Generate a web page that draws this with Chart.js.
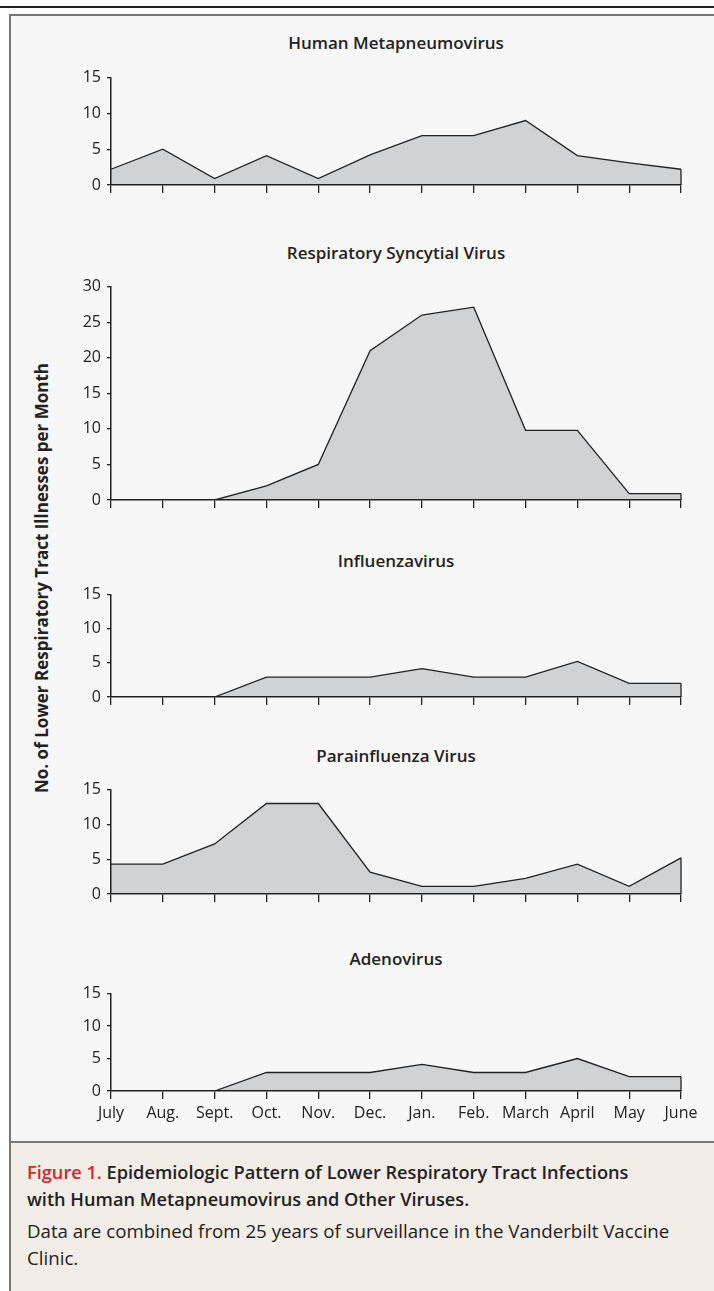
<!DOCTYPE html>
<html>
<head>
<meta charset="utf-8">
<script src="https://cdn.jsdelivr.net/npm/chart.js@4.4.1/dist/chart.umd.min.js"></script>
<style>
  html, body { margin: 0; padding: 0; background: #fff; }
  body { width: 714px; height: 1291px; position: relative; overflow: hidden; }
  .rule { position: absolute; left: 0; top: 6px; width: 714px; height: 2px; background: #222; }
  .box { position: absolute; left: 9px; top: 14px; width: 720px; height: 1125px; background: #f7f7f7;
         border-left: 2px solid #777; border-top: 2px solid #777; }
  .caption { position: absolute; left: 9px; top: 1141px; width: 720px; height: 160px; background: #f2ede6;
             border-left: 2px solid #777; border-top: 2px solid #777; }
  .cap-text { position: absolute; left: 27px; top: 1159px; width: 680px; color: #222; font-family: "Open Sans", sans-serif; }
  .cap-head { font-weight: 600; font-size: 18.2px; line-height: 27px; }
  .cap-head .fig { color: #e0202b; }
  .cap-body { margin-top: 4px; font-size: 18.7px; line-height: 27px; }
  .ptitle { position: absolute; left: 111px; width: 570px; text-align: center; font-family: "Open Sans", sans-serif;
            font-weight: 600; font-size: 17px; line-height: 20px; color: #222; }
  .ylabel { position: absolute; left: -208px; top: 568px; width: 500px; height: 20px; line-height: 20px; text-align: center;
            transform: rotate(-90deg); font-family: "Open Sans", sans-serif; font-weight: 700; font-size: 17px; color: #222; }
  canvas { position: absolute; left: 50px; }
</style>
</head>
<body>
<div class="rule"></div>
<div class="box"></div>
<div class="caption"></div>
<div class="ylabel">No. of Lower Respiratory Tract Illnesses per Month</div>
<div id="panels"></div>
<div class="cap-text">
  <div class="cap-head"><span class="fig">Figure 1.</span> Epidemiologic Pattern of Lower Respiratory Tract Infections<br>with Human Metapneumovirus and Other Viruses.</div>
  <div class="cap-body">Data are combined from 25 years of surveillance in the Vanderbilt Vaccine<br>Clinic.</div>
</div>
<script>
// months, July to June
const months = ['July', 'Aug.', 'Sept.', 'Oct.', 'Nov.', 'Dec.', 'Jan.', 'Feb.', 'March', 'April', 'May', 'June'];

// illnesses per month
const metapneumo = [2.2, 5, 0.9, 4.1, 0.9, 4.2, 6.9, 6.9, 9, 4.1, 3.1, 2.2];
const rsv = [0, 0, 0, 2, 5, 21, 26, 27.1, 9.8, 9.8, 0.9, 0.9];
const influenza = [0, 0, 0, 2.9, 2.9, 2.9, 4.15, 2.9, 2.9, 5.2, 2, 2];
const parainfluenza = [4.3, 4.3, 7.2, 13, 13, 3.15, 1.1, 1.1, 2.25, 4.3, 1.1, 5.2];
const adenovirus = [0, 0, 0, 2.85, 2.85, 2.85, 4.1, 2.85, 2.85, 5, 2.2, 2.2];

const titles = ['Human Metapneumovirus', 'Respiratory Syncytial Virus', 'Influenzavirus', 'Parainfluenza Virus', 'Adenovirus'];
const series = [metapneumo, rsv, influenza, parainfluenza, adenovirus];
const yMax = [15, 30, 15, 15, 15];

// page layout: top of chart area, height of chart area, title centre
const layout = [
  { top: 74, h: 111, titleY: 43 },
  { top: 283, h: 217, titleY: 253 },
  { top: 591, h: 106, titleY: 561 },
  { top: 786, h: 108, titleY: 756 },
  { top: 990, h: 101, titleY: 959 },
];

const INK = '#222';
const PAD_TOP = 12;
const PAD_RIGHT = 29;
const X_AXIS_H = 32;

// outline down the right edge of the filled area
const closeEdge = {
  id: 'closeEdge',
  afterDatasetsDraw(chart) {
    const meta = chart.getDatasetMeta(0);
    const last = meta.data[meta.data.length - 1];
    const y0 = chart.scales.y.getPixelForValue(0);
    const ctx = chart.ctx;
    ctx.save();
    ctx.strokeStyle = INK;
    ctx.lineWidth = 1.3;
    ctx.beginPath();
    ctx.moveTo(last.x, last.y);
    ctx.lineTo(last.x, y0);
    ctx.stroke();
    ctx.restore();
  }
};

const holder = document.getElementById('panels');

series.forEach((values, i) => {
  const L = layout[i];
  const isLast = i === series.length - 1;

  const t = document.createElement('div');
  t.className = 'ptitle';
  t.style.top = (L.titleY - 10) + 'px';
  t.textContent = titles[i];
  holder.appendChild(t);

  const canvas = document.createElement('canvas');
  canvas.width = 61 + 570 + PAD_RIGHT;
  canvas.height = PAD_TOP + L.h + X_AXIS_H;
  canvas.style.top = (L.top - PAD_TOP) + 'px';
  holder.appendChild(canvas);

  new Chart(canvas.getContext('2d'), {
    type: 'line',
    data: {
      labels: months,
      datasets: [{
        data: values,
        fill: 'origin',
        backgroundColor: '#d1d2d4',
        borderColor: INK,
        borderWidth: 1.3,
        pointRadius: 0,
        tension: 0,
      }],
    },
    options: {
      responsive: false,
      animation: false,
      events: [],
      layout: { padding: { top: PAD_TOP, right: PAD_RIGHT, left: 0, bottom: 0 } },
      plugins: { legend: { display: false }, tooltip: { enabled: false } },
      scales: {
        x: {
          offset: false,
          afterFit: (scale) => { scale.height = X_AXIS_H; },
          grid: { drawOnChartArea: false, drawTicks: true, tickLength: 8, color: INK, lineWidth: 1.3 },
          border: { display: true, color: INK, width: 1.5, z: 1 },
          ticks: {
            display: isLast,
            autoSkip: false,
            maxRotation: 0,
            minRotation: 0,
            padding: 5,
            color: INK,
            font: { family: 'Open Sans', size: 16 },
          },
        },
        y: {
          min: 0,
          max: yMax[i],
          afterFit: (scale) => { scale.width = 61; },
          grid: { drawOnChartArea: false, drawTicks: true, tickLength: 4, color: INK, lineWidth: 1.3 },
          border: { display: true, color: INK, width: 1.5, z: 1 },
          ticks: {
            stepSize: 5,
            padding: 6,
            color: INK,
            font: { family: 'Open Sans', size: 16 },
          },
        },
      },
    },
    plugins: [closeEdge],
  });
});
</script>
</body>
</html>
